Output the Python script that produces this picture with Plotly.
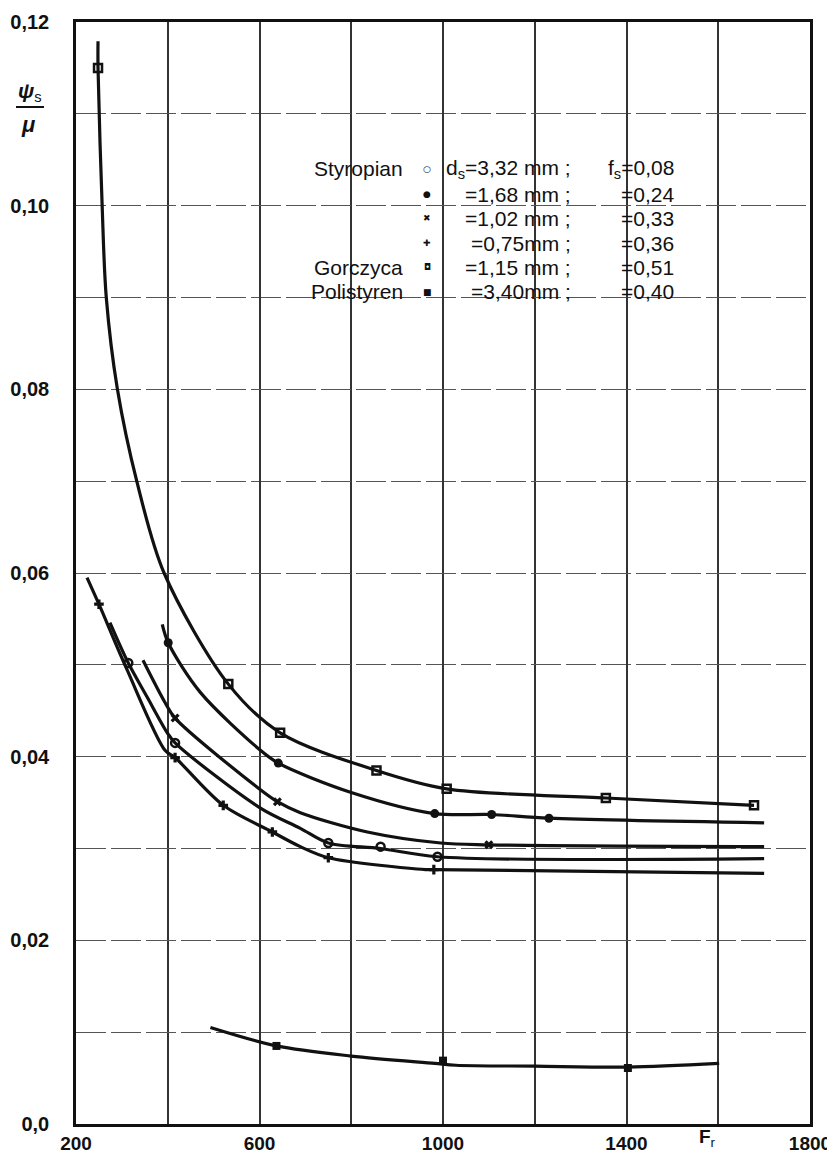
import plotly.graph_objects as go

# ---------------- data ----------------
# Gorczyca  d=1,15 mm ; f=0,51  (open square)
gor_curve_x = [248, 248, 257, 266, 290, 333, 392, 532, 645, 855, 1008, 1355, 1678]
gor_curve_y = [0.1179, 0.1150, 0.1000, 0.0900, 0.0801, 0.0699, 0.0600, 0.0479, 0.0426, 0.0385, 0.0365, 0.0355, 0.0347]
gor_pts_x = [248, 532, 645, 855, 1008, 1355, 1678]
gor_pts_y = [0.1150, 0.0479, 0.0426, 0.0385, 0.0365, 0.0355, 0.0347]

# Styropian d=1,68 mm ; f=0,24 (filled circle)
s168_curve_x = [388, 401, 471, 602, 641, 800, 982, 1106, 1231, 1700]
s168_curve_y = [0.0544, 0.0524, 0.0470, 0.0407, 0.0393, 0.0361, 0.0338, 0.0337, 0.0333, 0.0328]
s168_pts_x = [401, 641, 982, 1106, 1231]
s168_pts_y = [0.0524, 0.0393, 0.0338, 0.0337, 0.0333]

# Styropian d=1,02 mm ; f=0,33 (x)
s102_curve_x = [346, 394, 416, 602, 639, 689, 835, 995, 1100, 1700]
s102_curve_y = [0.0505, 0.0459, 0.0442, 0.0364, 0.0351, 0.0339, 0.0318, 0.0306, 0.0304, 0.0302]
s102_pts_x = [416, 639, 1100]
s102_pts_y = [0.0442, 0.0351, 0.0304]

# Styropian d=3,32 mm ; f=0,08 (open circle)
s332_curve_x = [274, 314, 355, 399, 416, 602, 689, 750, 864, 988, 1700]
s332_curve_y = [0.0546, 0.0502, 0.0465, 0.0426, 0.0415, 0.0344, 0.0322, 0.0306, 0.0300, 0.0291, 0.0289]
s332_pts_x = [314, 416, 750, 864, 988]
s332_pts_y = [0.0502, 0.0415, 0.0306, 0.0302, 0.0291]

# Styropian d=0,75 mm ; f=0,36 (plus)
s075_curve_x = [224, 250, 311, 394, 416, 521, 628, 689, 750, 962, 980, 1700]
s075_curve_y = [0.0595, 0.0566, 0.0495, 0.0407, 0.0399, 0.0347, 0.0318, 0.0302, 0.0290, 0.0277, 0.0277, 0.0273]
s075_pts_x = [250, 416, 521, 628, 750, 980]
s075_pts_y = [0.0566, 0.0399, 0.0347, 0.0318, 0.0290, 0.0277]

# Polistyren d=3,40 mm ; f=0,40 (filled square)
pol_curve_x = [493, 637, 800, 982, 1028, 1200, 1403, 1602]
pol_curve_y = [0.0105, 0.0085, 0.0074, 0.0066, 0.0064, 0.0063, 0.0062, 0.0066]
pol_pts_x = [637, 1000, 1403]
pol_pts_y = [0.0085, 0.0069, 0.0061]

# axes ticks
x_tick_vals = [200, 600, 1000, 1400, 1800]
x_tick_text = ["200", "600", "1000", "1400", "1800"]
x_minor_vals = [400, 800, 1200, 1600]
y_tick_vals = [0.00, 0.02, 0.04, 0.06, 0.08, 0.10, 0.12]
y_tick_text = ["0,0", "0,02", "0,04", "0,06", "0,08", "0,10", "0,12"]
y_minor_vals = [0.01, 0.03, 0.05, 0.07, 0.09, 0.11]

# legend rows
leg_names = ["Styropian", "", "", "", "Gorczyca", "Polistyren"]
leg_syms = ["○", "●", "✖", "✚", "◘", "■"]
leg_d = ["d<sub>s</sub>=3,32 mm ;", "=1,68 mm ;", "=1,02 mm ;", "=0,75mm ;", "=1,15 mm ;", "=3,40mm ;"]
leg_f = ["f<sub>s</sub>=0,08", "=0,24", "=0,33", "=0,36", "=0,51", "=0,40"]

# ---------------- figure ----------------
OFF = 8                      # page body margin of the html page
W, H = 835 - OFF, 1153 - OFF
L, T = 76 - OFF, 22 - OFF     # plot frame left/top in figure pixels
R = W - (810 - OFF)
B = H - (1124 - OFF)
PW, PH = W - L - R, H - T - B


def px2paper(px, py):
    """window pixel -> paper coords"""
    fx, fy = px - OFF, py - OFF
    return (fx - L) / PW, (H - B - fy) / PH


FONT = "Liberation Sans, Arial, sans-serif"
INK = "#111"

fig = go.Figure()

series = [
    (gor_curve_x, gor_curve_y, gor_pts_x, gor_pts_y, dict(symbol="square-open", size=8, line=dict(color=INK, width=2.5), color=INK)),
    (s168_curve_x, s168_curve_y, s168_pts_x, s168_pts_y, dict(symbol="circle", size=9, color=INK)),
    (s102_curve_x, s102_curve_y, s102_pts_x, s102_pts_y, dict(symbol="x", size=8, color=INK)),
    (s332_curve_x, s332_curve_y, s332_pts_x, s332_pts_y, dict(symbol="circle-open", size=8, line=dict(color=INK, width=2.5), color=INK)),
    (s075_curve_x, s075_curve_y, s075_pts_x, s075_pts_y, dict(symbol="cross", size=8, color=INK)),
    (pol_curve_x, pol_curve_y, pol_pts_x, pol_pts_y, dict(symbol="square", size=8, color=INK)),
]

for cx, cy, mx, my, mk in series:
    fig.add_trace(go.Scatter(x=cx, y=cy, mode="lines",
                             line=dict(color=INK, width=3.2, shape="spline", smoothing=0.9),
                             showlegend=False, hoverinfo="skip"))
    fig.add_trace(go.Scatter(x=mx, y=my, mode="markers", marker=mk,
                             showlegend=False))

fig.update_xaxes(range=[200, 1800], tickvals=x_tick_vals, ticktext=x_tick_text,
                 showgrid=True, gridcolor="#333", gridwidth=1.5,
                 minor=dict(tickvals=x_minor_vals, showgrid=True, gridcolor="#333", gridwidth=1.5, ticks=""),
                 showline=True, linecolor=INK, linewidth=2.5, mirror=True,
                 ticks="", ticklabelstandoff=0, zeroline=False,
                 tickfont=dict(family=FONT, size=19, color=INK, weight="bold"))
fig.update_yaxes(range=[0, 0.12], tickvals=y_tick_vals, ticktext=y_tick_text,
                 showgrid=True, gridcolor="#555", gridwidth=1.2, griddash="30px,5px",
                 minor=dict(tickvals=y_minor_vals, showgrid=True, gridcolor="#555", gridwidth=1.2,
                            griddash="30px,5px", ticks=""),
                 showline=True, linecolor=INK, linewidth=2.5, mirror=True,
                 ticks="", ticklabelstandoff=20, zeroline=False,
                 tickfont=dict(family=FONT, size=20, color=INK, weight="bold"))

annotations = []
rows_py = [169, 194, 218, 243, 267, 292]
for i, py in enumerate(rows_py):
    if leg_names[i]:
        xp, yp = px2paper(405, py)
        annotations.append(dict(x=xp, y=yp, xref="paper", yref="paper", text=leg_names[i],
                                showarrow=False, xanchor="right", yanchor="middle",
                                font=dict(family=FONT, size=21, color=INK)))
    xp, yp = px2paper(427, py)
    annotations.append(dict(x=xp, y=yp, xref="paper", yref="paper", text=leg_syms[i],
                            showarrow=False, xanchor="center", yanchor="middle",
                            font=dict(family="DejaVu Sans", size=9, color=INK)))
    xp, yp = px2paper(573, py)
    annotations.append(dict(x=xp, y=yp, xref="paper", yref="paper", text=leg_d[i],
                            showarrow=False, xanchor="right", yanchor="middle",
                            font=dict(family=FONT, size=21, color=INK)))
    xp, yp = px2paper(676, py)
    annotations.append(dict(x=xp, y=yp, xref="paper", yref="paper", text=leg_f[i],
                            showarrow=False, xanchor="right", yanchor="middle",
                            font=dict(family=FONT, size=21, color=INK)))

# axis titles
xp, yp = px2paper(707, 1138)
annotations.append(dict(x=xp, y=yp, xref="paper", yref="paper", text="<b>F</b><sub>r</sub>",
                        showarrow=False, xanchor="center", yanchor="middle",
                        font=dict(family=FONT, size=19, color=INK)))
xp, yp = px2paper(30, 92)
annotations.append(dict(x=xp, y=yp, xref="paper", yref="paper", text="<b><i>ψ</i></b><sub>s</sub>",
                        showarrow=False, xanchor="center", yanchor="middle",
                        font=dict(family=FONT, size=21, color=INK)))
xp, yp = px2paper(28, 124)
annotations.append(dict(x=xp, y=yp, xref="paper", yref="paper", text="<b><i>μ</i></b>",
                        showarrow=False, xanchor="center", yanchor="middle",
                        font=dict(family=FONT, size=22, color=INK)))

x0, y0 = px2paper(16, 107)
x1, _ = px2paper(44, 107)
shapes = [dict(type="line", xref="paper", yref="paper", x0=x0, x1=x1, y0=y0, y1=y0,
               line=dict(color=INK, width=2))]

fig.update_layout(width=W, height=H, margin=dict(l=L, r=R, t=T, b=B, autoexpand=False),
                  paper_bgcolor="white", plot_bgcolor="white",
                  annotations=annotations, shapes=shapes, showlegend=False)

fig.write_html("out.html")
